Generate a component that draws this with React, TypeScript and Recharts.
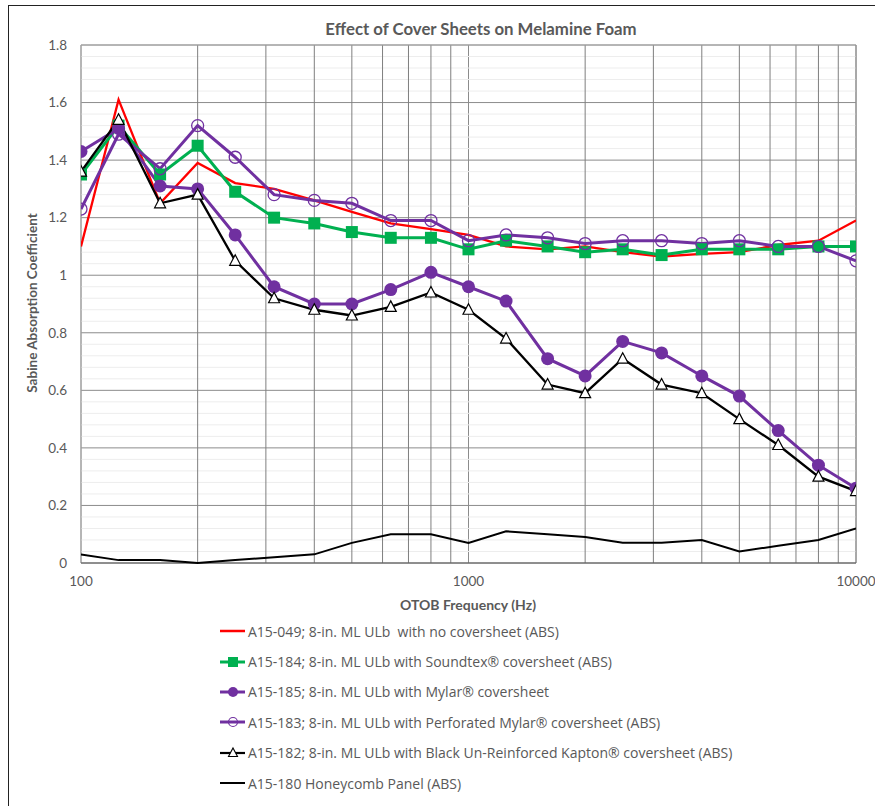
import React from 'react';
import { LineChart, Line, XAxis, YAxis, CartesianGrid, ReferenceLine } from 'recharts';

// 1/3-octave band centre frequencies (Hz)
const freqs = [100, 125, 160, 200, 250, 315, 400, 500, 630, 800, 1000, 1250, 1600, 2000, 2500, 3150, 4000, 5000, 6300, 8000, 10000];

const noCover = [1.1, 1.61, 1.25, 1.39, 1.32, 1.3, 1.26, 1.22, 1.18, 1.16, 1.14, 1.1, 1.09, 1.1, 1.08, 1.065, 1.074, 1.08, 1.105, 1.12, 1.19];
const soundtex = [1.35, 1.52, 1.35, 1.45, 1.29, 1.2, 1.18, 1.15, 1.13, 1.13, 1.09, 1.12, 1.1, 1.08, 1.09, 1.07, 1.09, 1.09, 1.09, 1.1, 1.1];
const mylar = [1.43, 1.51, 1.31, 1.3, 1.14, 0.96, 0.9, 0.9, 0.95, 1.01, 0.96, 0.91, 0.71, 0.65, 0.77, 0.73, 0.65, 0.58, 0.46, 0.34, 0.26];
const perfMylar = [1.23, 1.49, 1.37, 1.52, 1.41, 1.28, 1.26, 1.25, 1.19, 1.19, 1.12, 1.14, 1.13, 1.11, 1.12, 1.12, 1.11, 1.12, 1.1, 1.1, 1.05];
const kapton = [1.36, 1.54, 1.25, 1.28, 1.05, 0.92, 0.88, 0.86, 0.89, 0.94, 0.88, 0.78, 0.62, 0.59, 0.71, 0.62, 0.59, 0.5, 0.41, 0.3, 0.25];
const honeycomb = [0.03, 0.01, 0.01, 0.0, 0.01, 0.02, 0.03, 0.07, 0.1, 0.1, 0.07, 0.11, 0.1, 0.09, 0.07, 0.07, 0.08, 0.04, 0.06, 0.08, 0.12];

const seriesNames = [
  'A15-049; 8-in. ML ULb  with no coversheet (ABS)',
  'A15-184; 8-in. ML ULb with Soundtex\u00ae coversheet (ABS)',
  'A15-185; 8-in. ML ULb with Mylar\u00ae coversheet',
  'A15-183; 8-in. ML ULb with Perforated Mylar\u00ae coversheet (ABS)',
  'A15-182; 8-in. ML ULb with Black Un-Reinforced Kapton\u00ae coversheet (ABS)',
  'A15-180 Honeycomb Panel (ABS)',
];

const xTicks = [100, 1000, 10000];
const xMinor = [200, 300, 400, 500, 600, 700, 800, 900, 2000, 3000, 4000, 5000, 6000, 7000, 8000, 9000];
const yTicks = [0, 0.2, 0.4, 0.6, 0.8, 1, 1.2, 1.4, 1.6, 1.8];

const data = freqs.map((f, i) => ({
  f,
  noCover: noCover[i],
  soundtex: soundtex[i],
  mylar: mylar[i],
  perfMylar: perfMylar[i],
  kapton: kapton[i],
  honeycomb: honeycomb[i],
}));

// faint minor lines every 0.04 between the major ticks
const yMinor: number[] = [];
for (let i = 1; i < 45; i++) {
  if (i % 5 !== 0) yMinor.push(Math.round(i * 4) / 100);
}

const RED = '#ff0000';
const GREEN = '#00b050';
const PURPLE = '#7030a0';
const TEXT = '#595959';
const FONT = 'Lato, "Open Sans", sans-serif';
const LEGEND_FONT = '"Open Sans", Lato, sans-serif';

const squareDot = (p: any) => (
  <rect key={p.key ?? p.index} x={p.cx - 6} y={p.cy - 6} width={12} height={12} fill={GREEN} />
);
const filledDot = (p: any) => (
  <circle key={p.key ?? p.index} cx={p.cx} cy={p.cy} r={6.5} fill={PURPLE} />
);
const openDot = (p: any) => (
  <circle key={p.key ?? p.index} cx={p.cx} cy={p.cy} r={6} fill="none" stroke={PURPLE} strokeWidth={1.3} />
);
const triDot = (p: any) => (
  <path
    key={p.key ?? p.index}
    d={`M${p.cx},${p.cy - 6} L${p.cx + 5.5},${p.cy + 4.5} L${p.cx - 5.5},${p.cy + 4.5} Z`}
    fill="#fff"
    stroke="#000"
    strokeWidth={1.2}
  />
);

const legendIcons = [
  <line x1={0} y1={7} x2={25} y2={7} stroke={RED} strokeWidth={2.5} />,
  <g><line x1={0} y1={7} x2={25} y2={7} stroke={GREEN} strokeWidth={3} /><rect x={8} y={2} width={10} height={10} fill={GREEN} /></g>,
  <g><line x1={0} y1={7} x2={25} y2={7} stroke={PURPLE} strokeWidth={3} /><circle cx={13} cy={7} r={5} fill={PURPLE} /></g>,
  <g><line x1={0} y1={7} x2={25} y2={7} stroke={PURPLE} strokeWidth={3} /><circle cx={13} cy={7} r={4.5} fill="none" stroke={PURPLE} strokeWidth={1.2} /></g>,
  <g><line x1={0} y1={7} x2={25} y2={7} stroke="#000" strokeWidth={2.2} /><path d="M13,2 L17.5,10.5 L8.5,10.5 Z" fill="#fff" stroke="#000" strokeWidth={1.1} /></g>,
  <line x1={0} y1={7} x2={25} y2={7} stroke="#000" strokeWidth={2} />,
];

export default function App() {
  return (
    <div style={{ position: 'absolute', left: 0, top: 0, width: 875, height: 806, overflow: 'hidden', background: '#fff', fontFamily: FONT }}>
      <div style={{ position: 'absolute', left: 8, top: 5, width: 900, height: 900, border: '1.5px solid #222', boxSizing: 'border-box' }} />
      <div style={{ position: 'absolute', left: 0, top: 18, width: 962, textAlign: 'center', fontSize: 16.8, fontWeight: 700, color: TEXT }}>
        Effect of Cover Sheets on Melamine Foam
      </div>
      <div style={{ position: 'absolute', left: 0, top: 0 }}>
        <LineChart width={875} height={620} data={data} margin={{ top: 45, right: 19, bottom: 27, left: 0 }}>
          <CartesianGrid stroke="#8c8c8c" horizontalValues={yTicks} verticalValues={xTicks} />
          {yMinor.map((v) => (
            <ReferenceLine key={'y' + v} y={v} stroke="#ededed" strokeWidth={1} ifOverflow="hidden" />
          ))}
          {xMinor.map((v) => (
            <ReferenceLine key={'x' + v} x={v} stroke="#7f7f7f" strokeWidth={1} ifOverflow="hidden" />
          ))}
          <ReferenceLine y={1.8} stroke="#a6a6a6" />
          <ReferenceLine x={100} stroke="#a6a6a6" />
          <ReferenceLine x={10000} stroke="#8c8c8c" />
          <ReferenceLine y={0} stroke="#595959" />
          <XAxis
            dataKey="f"
            type="number"
            scale="log"
            domain={[100, 10000]}
            ticks={xTicks}
            allowDataOverflow
            height={30}
            tickLine={false}
            axisLine={false}
            tickMargin={7}
            tick={{ fill: TEXT, fontSize: 13.5, fontFamily: FONT }}
          />
          <YAxis
            type="number"
            domain={[0, 1.8]}
            ticks={yTicks}
            width={81}
            tickLine={false}
            axisLine={false}
            tickMargin={8}
            tick={{ fill: TEXT, fontSize: 13.5, fontFamily: FONT }}
          />
          <Line dataKey="noCover" stroke={RED} strokeWidth={2.3} dot={false} isAnimationActive={false} />
          <Line dataKey="soundtex" stroke={GREEN} strokeWidth={3} dot={squareDot} isAnimationActive={false} />
          <Line dataKey="mylar" stroke={PURPLE} strokeWidth={3} dot={filledDot} isAnimationActive={false} />
          <Line dataKey="perfMylar" stroke={PURPLE} strokeWidth={3} dot={openDot} isAnimationActive={false} />
          <Line dataKey="kapton" stroke="#000" strokeWidth={2.3} dot={triDot} isAnimationActive={false} />
          <Line dataKey="honeycomb" stroke="#000" strokeWidth={2} dot={false} isAnimationActive={false} />
        </LineChart>
      </div>
      <div style={{ position: 'absolute', left: 0, top: 596, width: 936, textAlign: 'center', fontSize: 14, fontWeight: 700, color: TEXT }}>
        OTOB Frequency (Hz)
      </div>
      <div
        style={{
          position: 'absolute', left: 32, top: 303, width: 300, marginLeft: -150, textAlign: 'center',
          transform: 'translateY(-50%) rotate(-90deg)', fontSize: 13.5, fontWeight: 700, color: TEXT, lineHeight: '16px',
        }}
      >
        Sabine Absorption Coefficient
      </div>
      <div style={{ position: 'absolute', left: 220, top: 616, fontFamily: LEGEND_FONT }}>
        {seriesNames.map((name, i) => (
          <div key={name} style={{ display: 'flex', alignItems: 'center', height: 30.4, fontSize: 14, color: TEXT }}>
            <svg width={26} height={14} style={{ marginRight: 2 }}>{legendIcons[i]}</svg>
            <span style={{ whiteSpace: 'pre' }}>{name}</span>
          </div>
        ))}
      </div>
    </div>
  );
}
